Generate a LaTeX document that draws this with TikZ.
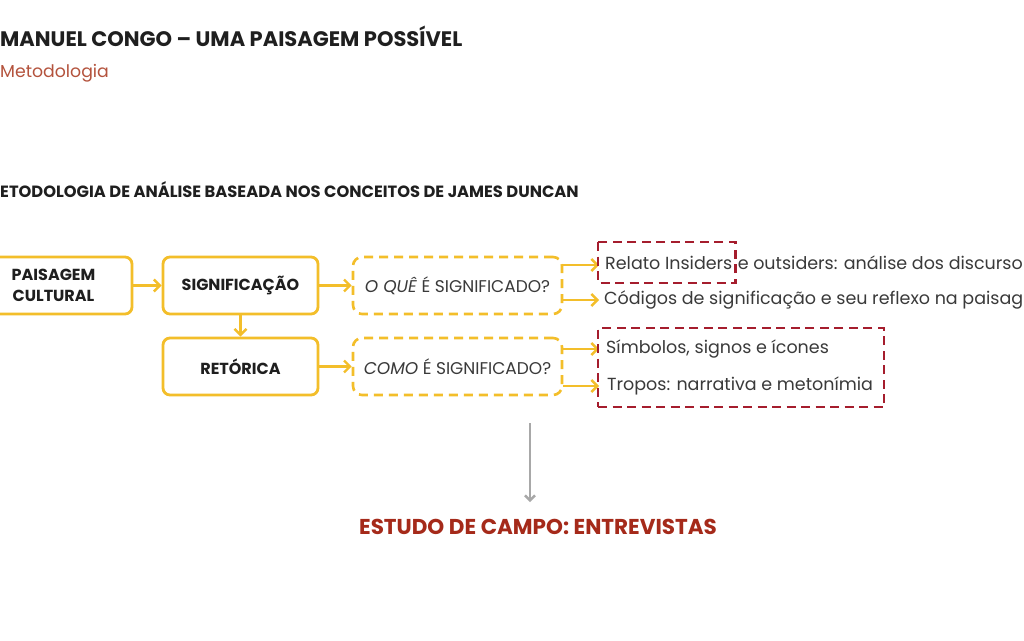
\documentclass[tikz,border=0pt]{standalone}
\usepackage{fontspec}
\setmainfont{Poppins}
\usetikzlibrary{arrows.meta}
\definecolor{ylw}{HTML}{F3BE2A}
\definecolor{dred}{HTML}{A51D2D}
\definecolor{ttl}{HTML}{1F1F1F}
\definecolor{sub}{HTML}{B4533D}
\definecolor{txt}{HTML}{3A3A3A}
\definecolor{camp}{HTML}{A52A1A}
\definecolor{gry}{HTML}{A8A8A8}
\begin{document}
\begin{tikzpicture}[x=1pt,y=-1pt,
 solidbox/.style={draw=ylw, line width=2.8pt, rounded corners=7pt, minimum width=155pt, minimum height=57pt, align=center, font=\fontsize{16}{20.5}\selectfont\bfseries, text=ttl, inner sep=0pt},
 dashbox/.style={draw=ylw, line width=2.6pt, dash pattern=on 9pt off 6pt, rounded corners=9pt, minimum width=209pt, minimum height=57pt, font=\fontsize{17}{20}\selectfont, text=txt, inner sep=0pt},
 yarrow/.style={draw=ylw, line width=2.4pt, -{Straight Barb[length=6pt,width=12pt,line width=2.4pt]}},
 item/.style={font=\fontsize{17.5}{20}\selectfont, text=txt, inner sep=0pt},
 redbox/.style={draw=dred, line width=2.8pt, dash pattern=on 9pt off 5.5pt, inner sep=0pt}
]
\useasboundingbox (0,0) rectangle (1024,640);
\fill[white] (0,0) rectangle (1024,640);

% titles
\node[anchor=base west, inner sep=0pt, font=\fontsize{21}{24}\selectfont\bfseries, text=ttl] (title) at (0,46) {MANUEL CONGO – UMA PAISAGEM POSSÍVEL};
\node[anchor=base west, inner sep=0pt, font=\fontsize{17.3}{20}\selectfont, text=sub] (subt) at (0,77) {Metodologia};
\node[anchor=base west, inner sep=0pt, font=\fontsize{16.3}{18}\selectfont\bfseries, text=ttl] (head) at (0,197) {ETODOLOGIA DE ANÁLISE BASEADA NOS CONCEITOS DE JAMES DUNCAN};

% main boxes
\node[solidbox, minimum width=157pt] (pc) at (53.5,285.5) {PAISAGEM\\CULTURAL};
\node[solidbox] (sig) at (240.5,285.5) {SIGNIFICAÇÃO};
\node[solidbox] (ret) at (240.5,366.5) {RETÓRICA};
\node[dashbox] (q1) at (457.5,285.5) {\textit{O QUÊ} É SIGNIFICADO?};
\node[dashbox] (q2) at (457.5,366.5) {\textit{COMO} É SIGNIFICADO?};

\draw[yarrow] (pc.east) -- (sig.west);
\draw[yarrow] (sig.south) -- (ret.north);
\draw[yarrow] (sig.east) -- (q1.west);
\draw[yarrow] (ret.east) -- (q2.west);

% items
\node[item, anchor=west] (t1a) at (605,263) {Relato Insiders};
\node[item, anchor=base west] (t1b) at ([xshift=5pt]t1a.base east) {e outsiders: análise dos discurso};
\node[item, anchor=west] (t2) at (604,300) {Códigos de significação e seu reflexo na paisag};
\node[item, anchor=west] (t3) at (606,349) {Símbolos, signos e ícones};
\node[item, anchor=west] (t4) at (607,386) {Tropos: narrativa e metonímia};

\draw[yarrow] (q1.east |- 0,265) -- ([xshift=-6pt]t1a.west |- 0,265);
\draw[yarrow] (q1.east |- t2.west) -- ([xshift=-5pt]t2.west);
\draw[yarrow] (q2.east |- t3.west) -- ([xshift=-7pt]t3.west);
\draw[yarrow] (q2.east |- t4.west) -- ([xshift=-8pt]t4.west);

% red dashed frames
\draw[redbox] (598,242) rectangle ([xshift=3pt]t1a.east |- 0,283);
\node[redbox, minimum width=286pt, minimum height=79pt] (r2) at (741,367.5) {};

% field study
\coordinate (g1) at (530,423);
\node[inner sep=0pt, font=\fontsize{21.5}{24}\selectfont\bfseries, text=camp] (camp) at (538,527) {ESTUDO DE CAMPO: ENTREVISTAS};
\draw[gry, line width=2.6pt, -{Straight Barb[length=5pt,width=10pt,line width=2.4pt]}] (g1) -- (g1 |- 0,502);
\end{tikzpicture}
\end{document}
